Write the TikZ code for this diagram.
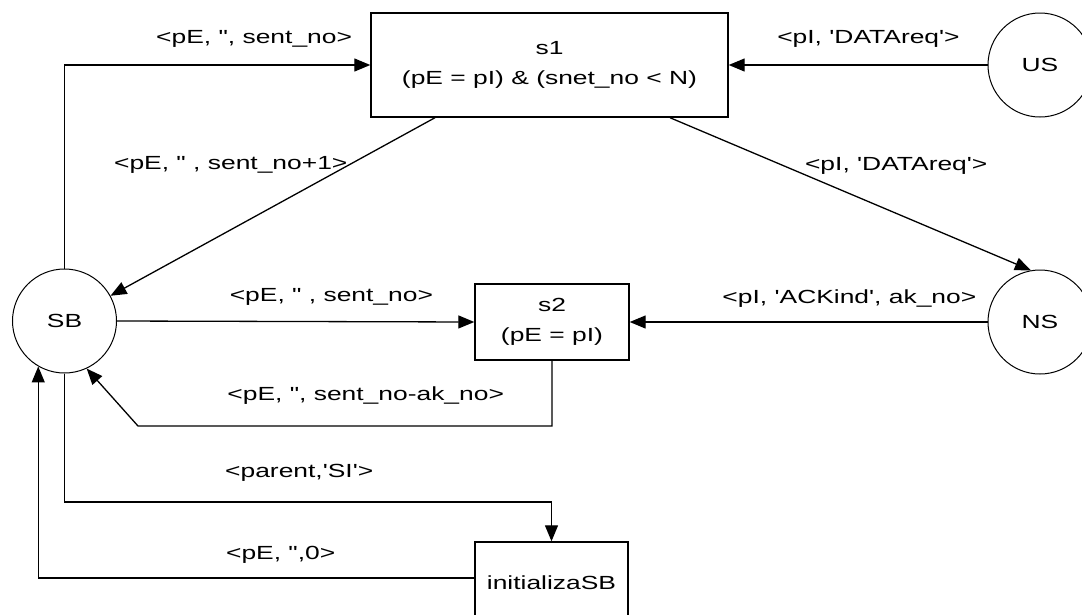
\documentclass[tikz,border=0pt]{standalone}
\usepackage{fontspec}
\setmainfont[FakeStretch=1.39, Ligatures=TeXOff]{Liberation Sans}
\usetikzlibrary{positioning, arrows.meta}

\begin{document}
\begin{tikzpicture}[x=1pt, y=-1pt,
    place/.style={draw, circle, line width=1pt, minimum size=104pt, inner sep=0pt,
                  font=\fontsize{19}{30}\selectfont},
    trans/.style={draw, rectangle, line width=1.4pt, align=center, inner sep=0pt,
                  font=\fontsize{19}{30}\selectfont},
    arc/.style={line width=1.3pt, -{Triangle[length=16pt, width=13pt]}},
    lbl/.style={font=\fontsize{19}{22}\selectfont, inner sep=0pt}]
    \useasboundingbox (0,0) rectangle (1082,614);

    \node[place] (SB) at (64.5,321) {SB};
    \node[place] (US) at (1040,65) {US};
    \node[place] (NS) at (1040,322) {NS};
    \node[trans, minimum width=357pt, minimum height=104pt] (s1) at (549.5,65)
        {s1\\(pE = pI) \& (snet\_no < N)};
    \node[trans, minimum width=154pt, minimum height=76pt] (s2) at (552,322)
        {s2\\(pE = pI)};
    \node[trans, minimum width=153pt, minimum height=82pt] (init) at (551.5,583)
        {initializaSB};
    \coordinate (c1) at (138,426);
    \coordinate (c2) at (551.5,502);

    \draw[arc] (SB.north) |- node[lbl, pos=0.81, yshift=26pt] {<pE, ", sent\_no>} (s1.west);
    \draw[arc] ([xshift=-114.5pt]s1.south) -- node[lbl, pos=0.268, anchor=east] {<pE, " , sent\_no+1>} (SB);
    \draw[arc] (US.west) -- node[lbl, pos=0.46, yshift=26pt] {<pI, 'DATAreq'>} (s1.east);
    \draw[arc] ([xshift=120.5pt]s1.south) -- node[lbl, pos=0.317, anchor=west, xshift=20pt] {<pI, 'DATAreq'>} (NS.100);
    \draw[arc] (SB.east) -- node[lbl, pos=0.6, yshift=25pt] {<pE, " , sent\_no>} (s2.west);
    \draw[arc] (NS.west) -- node[lbl, pos=0.386, yshift=23pt] {<pI, 'ACKind', ak\_no>} (s2.east);
    \draw[arc] (s2.south) |- node[lbl, pos=0.725, yshift=30pt] {<pE, ", sent\_no-ak\_no>} (c1) -- (SB.-65);
    \draw[arc] (SB.south) |- node[lbl, pos=0.741, yshift=29.5pt] {<parent,'SI'>} (c2) -- (init.north);
    \draw[arc] ([yshift=5pt]init.west) -| node[lbl, pos=0.222, yshift=23.5pt] {<pE, ",0>} (SB.-120);
\end{tikzpicture}
\end{document}
